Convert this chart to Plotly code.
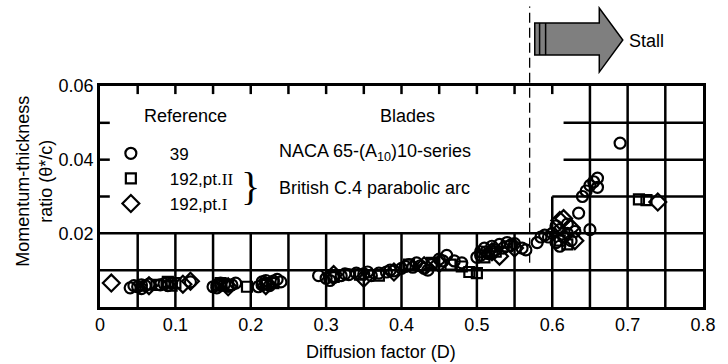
import plotly.graph_objects as go

# ---------------- data ----------------
ref39_D = [0.040, 0.045, 0.050, 0.055, 0.060, 0.065, 0.055, 0.080, 0.085, 0.090, 0.095, 0.120,
           0.150, 0.155, 0.160, 0.165, 0.170, 0.175, 0.180, 0.155, 0.160,
           0.210, 0.215, 0.220, 0.225, 0.230, 0.235, 0.220, 0.240, 0.215,
           0.290, 0.300, 0.305, 0.310, 0.320, 0.325, 0.330, 0.340, 0.350, 0.355, 0.360, 0.370,
           0.380, 0.385, 0.390, 0.400, 0.405, 0.410, 0.415, 0.420, 0.425, 0.430, 0.435, 0.440,
           0.450, 0.455, 0.460, 0.470, 0.480,
           0.500, 0.505, 0.510, 0.515, 0.520, 0.525, 0.530, 0.535, 0.540, 0.545, 0.550, 0.505,
           0.512, 0.520, 0.560, 0.565, 0.580, 0.585, 0.590, 0.595, 0.600, 0.605, 0.610, 0.615,
           0.620, 0.625, 0.605, 0.610, 0.620, 0.630, 0.635, 0.640, 0.650, 0.645, 0.650, 0.655,
           0.660, 0.660, 0.690]
ref39_T = [0.0052, 0.0058, 0.0055, 0.0060, 0.0058, 0.0062, 0.0050, 0.0060, 0.0063, 0.0058, 0.0065, 0.0068,
           0.0055, 0.0060, 0.0058, 0.0062, 0.0056, 0.0060, 0.0065, 0.0052, 0.0065,
           0.0055, 0.0060, 0.0065, 0.0058, 0.0070, 0.0075, 0.0072, 0.0068, 0.0068,
           0.0085, 0.0078, 0.0072, 0.0080, 0.0085, 0.0090, 0.0088, 0.0092, 0.0090, 0.0095, 0.0085, 0.0092,
           0.0095, 0.0100, 0.0098, 0.0105, 0.0110, 0.0115, 0.0108, 0.0120, 0.0112, 0.0105, 0.0100, 0.0115,
           0.0130, 0.0125, 0.0140, 0.0125, 0.0120,
           0.0135, 0.0150, 0.0160, 0.0145, 0.0165, 0.0155, 0.0170, 0.0160, 0.0175, 0.0168, 0.0172, 0.0140,
           0.0150, 0.0145, 0.0160, 0.0155, 0.0175, 0.0190, 0.0195, 0.0190, 0.0200, 0.0220, 0.0210, 0.0190,
           0.0200, 0.0180, 0.0175, 0.0165, 0.0225, 0.0205, 0.0255, 0.0300, 0.0210, 0.0315, 0.0330, 0.0340,
           0.0350, 0.0325, 0.0445]

ref192II_D = [0.075, 0.090, 0.100, 0.095, 0.160, 0.170, 0.195, 0.220, 0.230, 0.310, 0.345, 0.370,
              0.410, 0.440, 0.465, 0.480, 0.490, 0.500, 0.510, 0.525, 0.540, 0.610, 0.620, 0.715, 0.725]
ref192II_T = [0.0060, 0.0068, 0.0065, 0.0058, 0.0065, 0.0060, 0.0055, 0.0062, 0.0065, 0.0082, 0.0088, 0.0085,
              0.0115, 0.0120, 0.0115, 0.0110, 0.0095, 0.0092, 0.0135, 0.0150, 0.0165, 0.0180, 0.0170, 0.0292, 0.0290]

ref192I_D = [0.015, 0.065, 0.110, 0.120, 0.170, 0.220, 0.310, 0.350, 0.390, 0.430, 0.450, 0.520,
             0.530, 0.550, 0.610, 0.615, 0.625, 0.630, 0.740]
ref192I_T = [0.0065, 0.0058, 0.0062, 0.0070, 0.0055, 0.0058, 0.0088, 0.0078, 0.0095, 0.0112, 0.0118, 0.0150,
             0.0138, 0.0160, 0.0235, 0.0240, 0.0215, 0.0180, 0.0285]

x_ticks = [0, 0.1, 0.2, 0.3, 0.4, 0.5, 0.6, 0.7, 0.8]
x_ticklabels = ["0", "0.1", "0.2", "0.3", "0.4", "0.5", "0.6", "0.7", "0.8"]
y_ticks = [0.02, 0.04, 0.06]
y_ticklabels = ["0.02", "0.04", "0.06"]

stall_D = 0.57

FONT = "Liberation Sans, Arial, sans-serif"
SERIF = "Liberation Serif, serif"
FS = 18
NB = "&nbsp;" * 4

def roman(s):
    return "<span style='font-family:Liberation Serif'>" + s + "</span>"

fig = go.Figure()
fig.add_trace(go.Scatter(x=ref39_D, y=ref39_T, mode="markers", name=NB + "39",
                         marker=dict(symbol="circle-open", size=11, color="black", line=dict(width=2.2))))
fig.add_trace(go.Scatter(x=ref192II_D, y=ref192II_T, mode="markers", name=NB + "192,pt." + roman("II"),
                         marker=dict(symbol="square-open", size=10, color="black", line=dict(width=2.2))))
fig.add_trace(go.Scatter(x=ref192I_D, y=ref192I_T, mode="markers", name=NB + "192,pt." + roman("I"),
                         marker=dict(symbol="diamond-open", size=13, color="black", line=dict(width=2.2))))

LW = 2.5
shapes = []
def hline(y, x0, x1):
    shapes.append(dict(type="line", xref="x", yref="y", x0=x0, x1=x1, y0=y, y1=y,
                       line=dict(color="black", width=LW), layer="below"))
def vline(x, y0, y1):
    shapes.append(dict(type="line", xref="x", yref="y", x0=x, x1=x, y0=y0, y1=y1,
                       line=dict(color="black", width=LW), layer="below"))

# staircase grid
hline(0.01, 0, 0.8)
hline(0.02, 0, 0.8)
hline(0.03, 0.6, 0.8)
hline(0.04, 0.615, 0.8)
hline(0.05, 0.615, 0.8)
for i in range(1, 12):
    vline(0.05 * i, 0, 0.02)
vline(0.60, 0, 0.03)
for xv in (0.65, 0.70, 0.75):
    vline(xv, 0, 0.06)
# inward top ticks
for i in range(1, 13):
    vline(0.05 * i, 0.0578, 0.06)
# inward left ticks
for yv in (0.03, 0.04, 0.05):
    hline(yv, 0, 0.013)

# stall dashed line
shapes.append(dict(type="line", xref="x", yref="paper", x0=stall_D, x1=stall_D, y0=0.2, y1=1.36,
                   line=dict(color="black", width=1.3, dash="10px,5px")))
# arrow
shapes.append(dict(type="path", xref="paper", yref="paper",
                   path="M 0.721,1.14 L 0.828,1.14 L 0.828,1.063 L 0.867,1.208 L 0.828,1.353 "
                        "L 0.828,1.285 L 0.721,1.285 Z",
                   fillcolor="#7f7f7f", line=dict(color="black", width=1.5)))
for px in (0.729, 0.739):
    shapes.append(dict(type="line", xref="paper", yref="paper", x0=px, x1=px, y0=1.14, y1=1.285,
                       line=dict(color="black", width=1.5)))

ann = []
def text(x, y, s, size=FS, xanchor="center", family=FONT, **kw):
    ann.append(dict(x=x, y=y, xref="paper", yref="paper", text=s, showarrow=False,
                    xanchor=xanchor, yanchor="middle", font=dict(family=family, size=size, color="black"), **kw))

text(0.874, 1.205, "Stall", xanchor="left")
text(0.142, 0.862, "Reference")
text(0.510, 0.862, "Blades")
text(0.294, 0.701, "NACA 65-(A<sub>10</sub>)10-series", xanchor="left")
text(0.294, 0.538, "British C.4 parabolic arc", xanchor="left")
text(0.250, 0.545, "}", size=40, family=SERIF)
text(0.466, -0.205, "Diffusion factor (D)")
text(-0.11, 0.57, "Momentum-thickness<br>ratio (θ*/c)", textangle=-90)

fig.update_layout(
    width=728, height=364,
    margin=dict(l=100, r=16, t=86, b=57),
    paper_bgcolor="white", plot_bgcolor="white",
    font=dict(family=FONT, size=FS, color="black"),
    shapes=shapes, annotations=ann,
    showlegend=True,
    legend=dict(x=0.018, y=0.775, xanchor="left", yanchor="top", bgcolor="rgba(0,0,0,0)",
                font=dict(family=FONT, size=17), tracegroupgap=0, itemclick=False),
    xaxis=dict(range=[0, 0.8], tickvals=x_ticks, ticktext=x_ticklabels, showgrid=False, zeroline=False,
               showline=True, linecolor="black", linewidth=LW, mirror=True, ticks="",
               tickfont=dict(size=FS)),
    yaxis=dict(range=[0, 0.06], tickvals=y_ticks, ticktext=y_ticklabels, showgrid=False, zeroline=False,
               showline=True, linecolor="black", linewidth=LW, mirror=True, ticks="",
               tickfont=dict(size=FS)),
)
fig.write_html("out.html")
